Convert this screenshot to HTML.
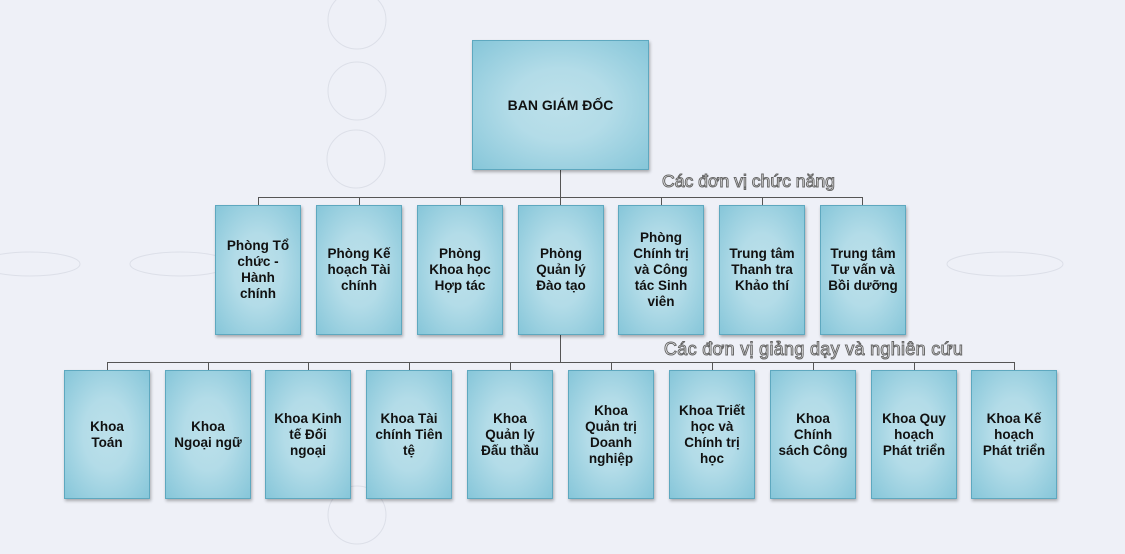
<!DOCTYPE html>
<html><head><meta charset="utf-8"><style>
html,body{margin:0;padding:0}
body{width:1125px;height:554px;position:relative;overflow:hidden;background:#eef0f7;font-family:"Liberation Sans",Arial,sans-serif}
.b{position:absolute;box-sizing:border-box;border:1px solid #5ea8bf;background:radial-gradient(ellipse at center,#bce0ea 0%,#b3dce8 40%,#86c6d9 100%);box-shadow:1px 2px 3px rgba(0,0,0,.3);display:flex;align-items:center;justify-content:center;text-align:center;font-weight:bold;font-size:13.5px;line-height:16px;color:#111;white-space:nowrap}
.l2{top:205px;width:86px;height:130px}
.l3{top:370px;width:86px;height:129px}
.lbl{position:absolute;font-size:17.6px;color:#fff;-webkit-text-stroke:1px #666;white-space:nowrap}
</style></head><body>
<svg width="1125" height="554" style="position:absolute;left:0;top:0">
<g fill="none" stroke="#dcdfe8" stroke-width="1">
<circle cx="357" cy="20" r="29"/><circle cx="357" cy="91" r="29"/><circle cx="356" cy="159" r="29"/>
<circle cx="357" cy="515" r="29"/>
<ellipse cx="30" cy="264" rx="50" ry="12"/><ellipse cx="180" cy="264" rx="50" ry="12"/>
<ellipse cx="1005" cy="264" rx="58" ry="12"/>
</g>
<g stroke="#555" stroke-width="1" fill="none">
<path d="M560.5 169V197.5M258.5 205V197.5H862.5V205M359.5 197.5V205M460.5 197.5V205M560.5 197.5V205M661.5 197.5V205M762.5 197.5V205"/>
<path d="M560.5 334V362.5M107.5 370V362.5H1014.5V370M208.5 362.5V370M308.5 362.5V370M409.5 362.5V370M510.5 362.5V370M611.5 362.5V370M712.5 362.5V370M813.5 362.5V370M914.5 362.5V370"/>
</g>
</svg>
<div class="b" style="left:472px;top:40px;width:177px;height:130px;font-size:14px">BAN GIÁM ĐỐC</div>
<div class="lbl" style="left:662px;top:171px">Các đơn vị chức năng</div>
<div class="lbl" style="left:664px;top:339px;font-size:18px;letter-spacing:0.3px">Các đơn vị giảng dạy và nghiên cứu</div>
<div class="b l2" style="left:215px">Phòng Tổ<br>chức -<br>Hành<br>chính</div>
<div class="b l2" style="left:316px">Phòng Kế<br>hoạch Tài<br>chính</div>
<div class="b l2" style="left:417px">Phòng<br>Khoa học<br>Hợp tác</div>
<div class="b l2" style="left:518px">Phòng<br>Quản lý<br>Đào tạo</div>
<div class="b l2" style="left:618px">Phòng<br>Chính trị<br>và Công<br>tác Sinh<br>viên</div>
<div class="b l2" style="left:719px">Trung tâm<br>Thanh tra<br>Khảo thí</div>
<div class="b l2" style="left:820px">Trung tâm<br>Tư vấn và<br>Bồi dưỡng</div>
<div class="b l3" style="left:64px">Khoa<br>Toán</div>
<div class="b l3" style="left:165px">Khoa<br>Ngoại ngữ</div>
<div class="b l3" style="left:265px">Khoa Kinh<br>tế Đối<br>ngoại</div>
<div class="b l3" style="left:366px">Khoa Tài<br>chính Tiên<br>tệ</div>
<div class="b l3" style="left:467px">Khoa<br>Quản lý<br>Đấu thầu</div>
<div class="b l3" style="left:568px">Khoa<br>Quản trị<br>Doanh<br>nghiệp</div>
<div class="b l3" style="left:669px">Khoa Triết<br>học và<br>Chính trị<br>học</div>
<div class="b l3" style="left:770px">Khoa<br>Chính<br>sách Công</div>
<div class="b l3" style="left:871px">Khoa Quy<br>hoạch<br>Phát triển</div>
<div class="b l3" style="left:971px">Khoa Kế<br>hoạch<br>Phát triển</div>
</body></html>
